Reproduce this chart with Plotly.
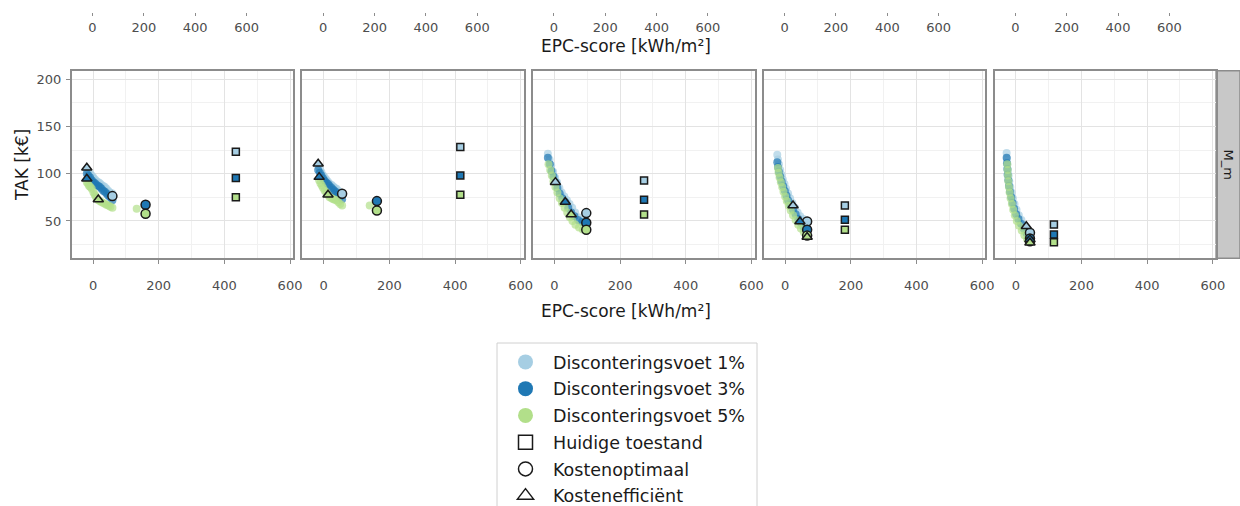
import plotly.graph_objects as go

# ---------------- data ----------------
rates = ["Disconteringsvoet 1%", "Disconteringsvoet 3%", "Disconteringsvoet 5%"]
rate_colors = ["#a6cee3", "#1f78b4", "#b2df8a"]
x_ticks = [0, 200, 400, 600]
y_ticks = [50, 100, 150, 200]
strip_label = "M_m"

# panel 1
p1_r1_x = [-19, -14, -9, -4, 1, 6, 11, 16, 21, 26, 31, 36, 41, 46, 52, 59]
p1_r1_y = [104.5, 102, 100, 98, 96, 94, 92, 91, 90, 88, 87, 86, 84, 82, 80, 79]
p1_r3_x = [-19, -14, -9, -4, 1, 6, 11, 16, 21, 26, 31, 36, 41, 46, 52, 59]
p1_r3_y = [100, 98, 96, 93, 91, 90, 88, 87, 86, 84, 82, 81, 79, 77, 75, 72]
p1_r5_x = [-19, -15, -12, -8, -4, 1, 5, 8, 12, 16, 21, 25, 31, 37, 42, 48, 53, 59, 133]
p1_r5_y = [91, 89, 87, 86, 84, 80.5, 78, 76, 74, 72, 71, 70, 69, 68, 67, 66, 65, 64, 63]

# panel 2
p2_r1_x = [-17, -12, -7, -2, 3, 8, 13, 18, 24, 29, 34, 39, 44, 50, 56]
p2_r1_y = [108.8, 105, 101.5, 98.2, 96, 93.5, 91.5, 89.4, 88, 86.5, 85, 84, 82, 80.5, 79]
p2_r3_x = [-17, -12, -7, -2, 3, 8, 13, 18, 24, 29, 34, 39, 44, 50, 56]
p2_r3_y = [104, 101, 98, 95, 92.5, 90.5, 89, 87, 85, 83, 81.5, 80, 78, 75.5, 73]
p2_r5_x = [-14, -10, -6, -2, 3, 8, 13, 18, 24, 29, 34, 39, 44, 50, 56, 140]
p2_r5_y = [93, 90, 87.5, 85, 82, 80, 77.5, 75, 74, 73, 72.5, 72, 70, 68, 66.4, 66.4]

# panel 3
p3_r1_x = [-20, -15, -10, -4, 2, 8, 15, 22, 30, 38, 46, 54, 63, 73, 85]
p3_r1_y = [121, 115, 109, 102, 96, 91, 85, 80, 76, 72, 68, 64, 59, 54, 51]
p3_r3_x = [-20, -14, -9, -3, 3, 9, 16, 24, 33, 42, 51, 61, 72, 84, 97]
p3_r3_y = [117, 110, 103, 97, 91, 85, 79, 74, 70, 64, 59, 55, 51, 49, 48]
p3_r5_x = [-18, -13, -8, -3, 3, 9, 16, 23, 31, 39, 47, 55, 64, 75, 86, 97]
p3_r5_y = [110, 104, 98, 92, 86, 80, 74, 69, 64, 59, 54, 50, 46, 43, 41, 41]

# panel 4
p4_r1_x = [-24, -22, -19, -15, -11, -7, -2, 3, 9, 15, 22, 30, 38, 46, 55, 67]
p4_r1_y = [120, 115, 110, 104, 99, 94, 89, 84, 79, 74, 69, 64, 59, 55, 52, 50]
p4_r3_x = [-24, -22, -19, -15, -11, -6, -1, 4, 9, 16, 24, 32, 40, 48, 56, 67]
p4_r3_y = [112, 107, 102, 97, 92, 87, 82, 77, 72, 67, 62, 57, 52, 48, 44, 41]
p4_r5_x = [-22, -20, -17, -13, -9, -5, 0, 5, 11, 17, 24, 32, 40, 48, 57, 67]
p4_r5_y = [106, 101, 96, 91, 86, 81, 76, 71, 66, 61, 56, 51, 46, 42, 38, 35]

# panel 5
p5_r1_x = [-28, -27, -26, -24, -22, -20, -17, -13, -9, -4, 2, 9, 17, 25, 34, 43]
p5_r1_y = [122, 116, 110, 104, 98, 92, 86, 80, 74, 68, 62, 56, 51, 46, 42, 38]
p5_r3_x = [-28, -27, -26, -25, -23, -21, -18, -14, -10, -5, 1, 8, 16, 24, 33, 43]
p5_r3_y = [117, 111, 105, 99, 93, 87, 81, 75, 69, 63, 57, 52, 47, 42, 37, 32]
p5_r5_x = [-26, -25, -24, -23, -21, -19, -16, -12, -8, -3, 3, 10, 18, 26, 34, 43]
p5_r5_y = [110, 104, 98, 92, 86, 80, 74, 68, 62, 56, 50, 45, 40, 35, 31, 28]

# Huidige toestand (squares), per panel
sq_x = [435, 416, 273, 182, 116]
sq_y_r1 = [123.2, 128.2, 92.9, 66.4, 46.3]
sq_y_r3 = [95.5, 98.2, 72.5, 51.3, 35.7]
sq_y_r5 = [75.1, 77.8, 56.9, 40.7, 27.6]

# Kostenoptimaal (circles), per panel
co_x_r1 = [59, 56, 97, 67, 43]
co_y_r1 = [76.3, 78.8, 58.3, 49.5, 37.5]
co_x_r3 = [160, 162, 97, 67, 43]
co_y_r3 = [67.2, 71.0, 48.1, 40.7, 31.5]
co_x_r5 = [160, 162, 97, 67, 43]
co_y_r5 = [57.6, 61.1, 40.7, 34.5, 28.5]

# Kostenefficiënt (triangles), per panel
ke_x_r1 = [-19, -17, 3, 24, 32]
ke_y_r1 = [106.4, 110.6, 91.1, 66.4, 44.5]
ke_x_r3 = [-19, -14, 33, 45, 43]
ke_y_r3 = [94.7, 96.4, 70.0, 49.5, 30.5]
ke_x_r5 = [16, 13, 51, 67, 43]
ke_y_r5 = [72.8, 77.8, 56.9, 33.0, 27.0]

series = [
    [(p1_r1_x, p1_r1_y), (p1_r3_x, p1_r3_y), (p1_r5_x, p1_r5_y)],
    [(p2_r1_x, p2_r1_y), (p2_r3_x, p2_r3_y), (p2_r5_x, p2_r5_y)],
    [(p3_r1_x, p3_r1_y), (p3_r3_x, p3_r3_y), (p3_r5_x, p3_r5_y)],
    [(p4_r1_x, p4_r1_y), (p4_r3_x, p4_r3_y), (p4_r5_x, p4_r5_y)],
    [(p5_r1_x, p5_r1_y), (p5_r3_x, p5_r3_y), (p5_r5_x, p5_r5_y)],
]
sq_y = [sq_y_r1, sq_y_r3, sq_y_r5]
co_x = [co_x_r1, co_x_r3, co_x_r5]
co_y = [co_y_r1, co_y_r3, co_y_r5]
ke_x = [ke_x_r1, ke_x_r3, ke_x_r5]
ke_y = [ke_y_r1, ke_y_r3, ke_y_r5]

# ---------------- layout geometry ----------------
W, H = 1240, 506
FONT = "DejaVu Sans"
left0, step, pw = 71.7, 230.7, 221.6
ytop, ybot = 70.7, 258.3
ydom = [1 - ybot / H, 1 - ytop / H]
BORDER = "#8c8c8c"
GRID = "#e3e3e3"
MINOR = "#f1f1f1"
TICKC = "#4d4d4d"
EDGE = "#1a1a1a"

fig = go.Figure()


def axn(prefix, k):
    return prefix if k == 1 else f"{prefix}{k}"


for i in range(5):
    xa, ya = axn("x", i + 1), axn("y", i + 1)
    for r in range(3):
        sx, sy = series[i][r]
        fig.add_trace(go.Scatter(
            x=sx, y=sy, mode="markers", xaxis=xa, yaxis=ya, showlegend=False,
            marker=dict(color=rate_colors[r], size=8, opacity=0.7, line=dict(width=0)),
            hoverinfo="skip"))
    for r in range(3):
        fig.add_trace(go.Scatter(
            x=[sq_x[i]], y=[sq_y[r][i]], mode="markers", xaxis=xa, yaxis=ya, showlegend=False,
            marker=dict(symbol="square", color=rate_colors[r], size=7, line=dict(color=EDGE, width=1.5)),
            hoverinfo="skip"))
    for r in range(3):
        fig.add_trace(go.Scatter(
            x=[co_x[r][i]], y=[co_y[r][i]], mode="markers", xaxis=xa, yaxis=ya, showlegend=False,
            marker=dict(symbol="circle", color=rate_colors[r], size=9, line=dict(color=EDGE, width=1.5)),
            hoverinfo="skip"))
    for r in range(3):
        fig.add_trace(go.Scatter(
            x=[ke_x[r][i]], y=[ke_y[r][i]], mode="markers", xaxis=xa, yaxis=ya, showlegend=False,
            marker=dict(symbol="triangle-up", color=rate_colors[r], size=9, line=dict(color=EDGE, width=1.5)),
            hoverinfo="skip"))
    # empty trace so that the secondary (top) axis of this panel is drawn
    fig.add_trace(go.Scatter(x=[None], y=[None], xaxis=axn("x", i + 6), yaxis=ya,
                             showlegend=False, hoverinfo="skip"))

# legend entries
for r in range(3):
    fig.add_trace(go.Scatter(x=[None], y=[None], mode="markers", name=rates[r],
                             legendgroup=f"g{r}",
                             marker=dict(symbol="circle", color=rate_colors[r], size=15)))
for k, (nm, sym) in enumerate([("Huidige toestand", "square-open"),
                                ("Kostenoptimaal", "circle-open"),
                                ("Kostenefficiënt", "triangle-up-open")]):
    fig.add_trace(go.Scatter(x=[None], y=[None], mode="markers", name=nm,
                             legendgroup=f"s{k}",
                             marker=dict(symbol=sym, color=EDGE, size=14, line=dict(width=1.5, color=EDGE))))

layout = dict(
    width=W, height=H,
    margin=dict(l=0, r=0, t=0, b=0, autoexpand=False),
    paper_bgcolor="white", plot_bgcolor="rgba(0,0,0,0)",
    font=dict(family=FONT, color="#1a1a1a"),
    legend=dict(x=498 / W, y=1 - 344 / H, xanchor="left", yanchor="top",
                bgcolor="rgba(0,0,0,0)", borderwidth=0,
                font=dict(family=FONT, size=17.5, color="#1a1a1a"),
                traceorder="grouped", tracegroupgap=1, itemwidth=45),
    showlegend=True,
)

for i in range(5):
    x0 = (left0 + step * i) / W
    x1 = (left0 + step * i + pw) / W
    layout[axn("xaxis", i + 1)] = dict(
        domain=[x0, x1], range=[-65, 610], anchor=axn("y", i + 1),
        tickmode="array", tickvals=x_ticks, ticktext=[str(v) for v in x_ticks],
        showgrid=True, gridcolor=GRID, gridwidth=1,
        minor=dict(tickvals=[100, 300, 500], showgrid=True, gridcolor=MINOR, gridwidth=1),
        showline=True, linecolor=BORDER, linewidth=1.5, mirror=True,
        ticks="outside", ticklen=4, tickcolor=BORDER, tickwidth=1,
        tickfont=dict(family=FONT, size=13, color=TICKC), ticklabelstandoff=10,
        zeroline=False)
    layout[axn("yaxis", i + 1)] = dict(
        domain=ydom, range=[10.5, 209], anchor=axn("x", i + 1),
        tickmode="array", tickvals=y_ticks, ticktext=[str(v) for v in y_ticks],
        showticklabels=(i == 0), ticks="outside" if i == 0 else "",
        ticklen=4, tickcolor=BORDER,
        showgrid=True, gridcolor=GRID, gridwidth=1,
        minor=dict(tickvals=[25, 75, 125, 175], showgrid=True, gridcolor=MINOR, gridwidth=1),
        showline=True, linecolor=BORDER, linewidth=1.5, mirror=True,
        tickfont=dict(family=FONT, size=13, color=TICKC), ticklabelstandoff=2,
        zeroline=False)
    layout[axn("xaxis", i + 6)] = dict(
        overlaying=axn("x", i + 1),
        domain=[x0, x1], range=[-81, 782], anchor="free", position=1 - 12 / H, side="bottom",
        tickmode="array", tickvals=x_ticks, ticktext=[str(v) for v in x_ticks],
        showgrid=False, showline=False, zeroline=False,
        ticks="outside", ticklen=3, tickcolor=BORDER,
        tickfont=dict(family=FONT, size=13, color=TICKC), ticklabelstandoff=0)

layout["shapes"] = [
    dict(type="rect", xref="paper", yref="paper",
         x0=(left0 + step * 4 + pw) / W, x1=1.0, y0=ydom[0], y1=ydom[1],
         fillcolor="#c8c8c8", line=dict(color=BORDER, width=1.5), layer="below"),
    # legend box
    dict(type="rect", xref="paper", yref="paper",
         x0=497 / W, x1=757 / W, y0=-0.02, y1=1 - 343 / H,
         fillcolor="white", line=dict(color="#d0d0d0", width=1), layer="below"),
]
layout["annotations"] = [
    dict(text="EPC-score [kWh/m²]", x=626 / W, y=1 - 46 / H, xref="paper", yref="paper",
         showarrow=False, xanchor="center", yanchor="middle", font=dict(family=FONT, size=17, color="#1a1a1a")),
    dict(text="EPC-score [kWh/m²]", x=626 / W, y=1 - 311 / H, xref="paper", yref="paper",
         showarrow=False, xanchor="center", yanchor="middle", font=dict(family=FONT, size=17, color="#1a1a1a")),
    dict(text="TAK [k€]", x=22 / W, y=1 - 165 / H, xref="paper", yref="paper", textangle=-90,
         showarrow=False, xanchor="center", yanchor="middle", font=dict(family=FONT, size=17, color="#1a1a1a")),
    dict(text=strip_label, x=(left0 + step * 4 + pw + (W - left0 - step * 4 - pw) / 2) / W,
         y=(ydom[0] + ydom[1]) / 2, xref="paper", yref="paper", textangle=90,
         showarrow=False, xanchor="center", yanchor="middle", font=dict(family=FONT, size=13, color="#1a1a1a")),
]

fig.update_layout(**layout)
fig.write_html("out.html")
